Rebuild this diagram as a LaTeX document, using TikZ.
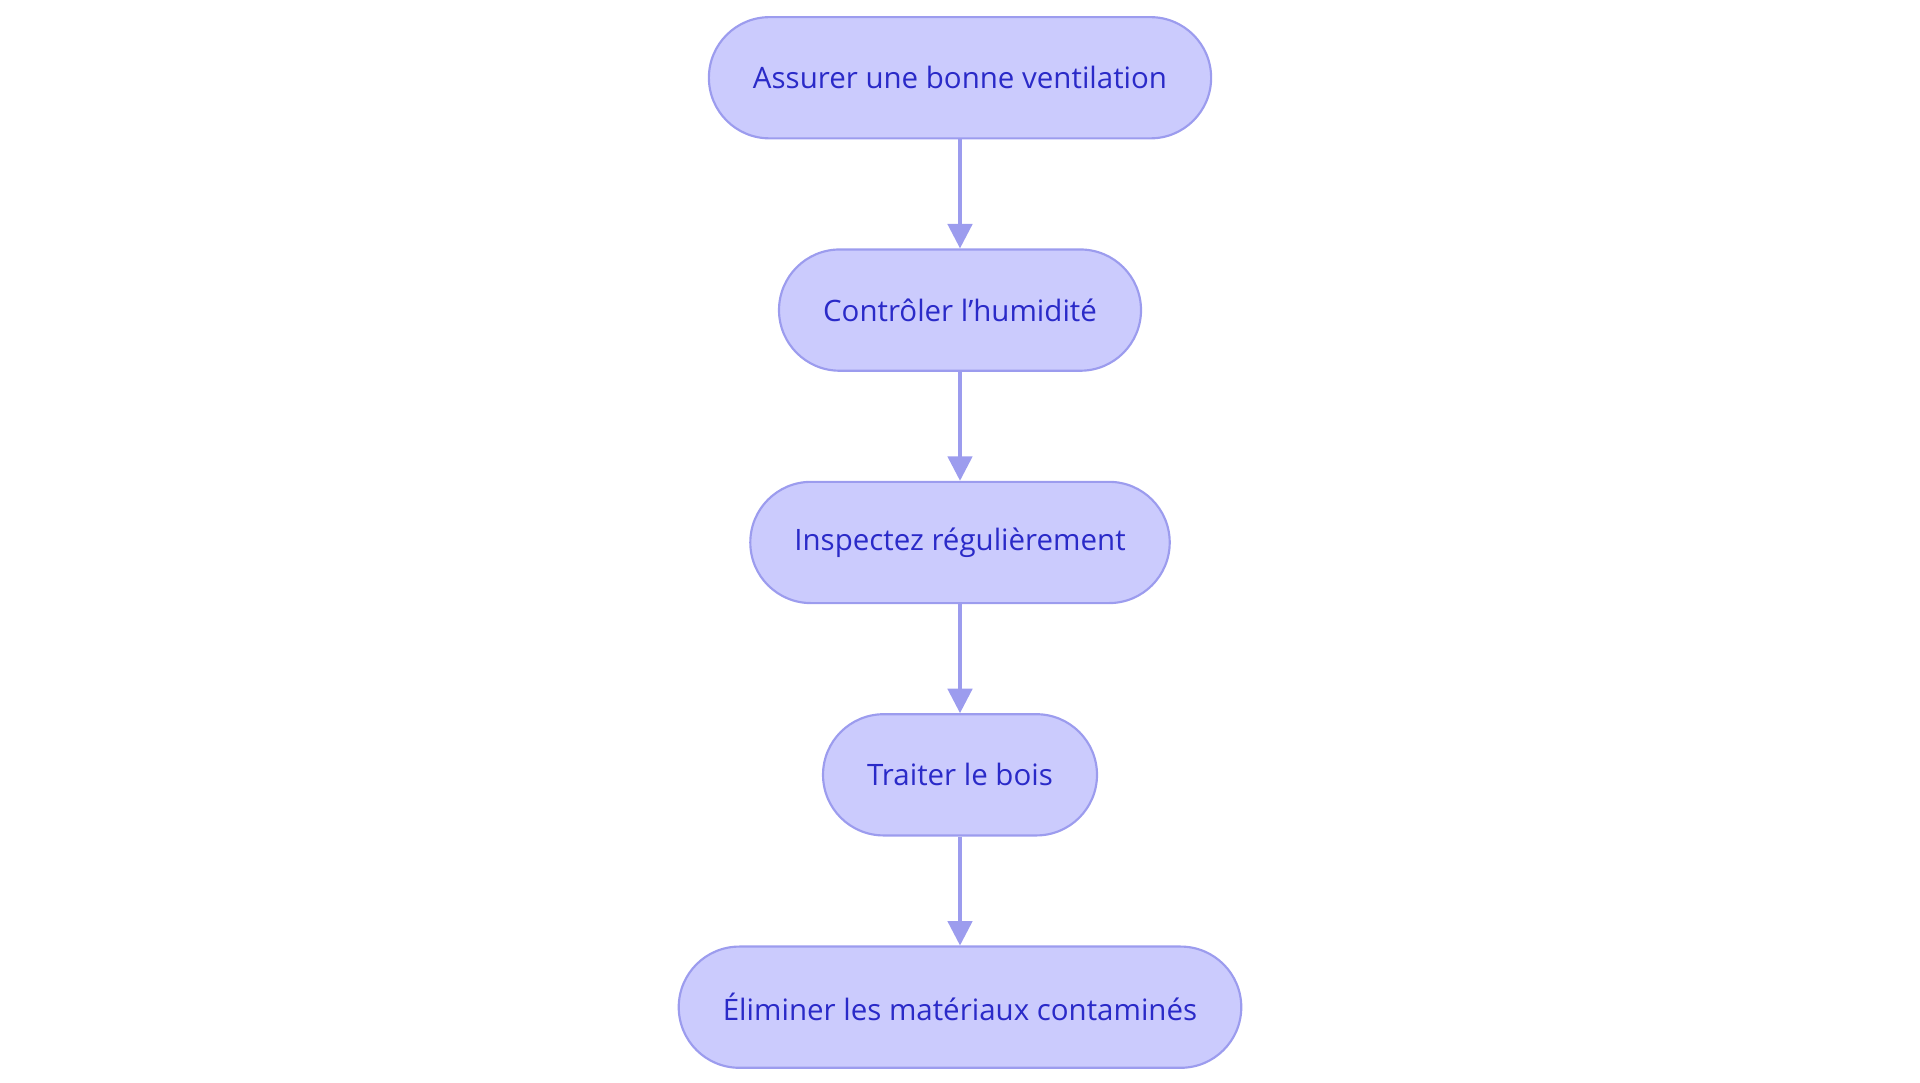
\documentclass[tikz,border=0pt]{standalone}
\usepackage{fontspec}
\setmainfont{Open Sans}
\usetikzlibrary{positioning,arrows.meta}
\definecolor{stepfill}{HTML}{CBCBFD}
\definecolor{stepline}{HTML}{9C9CEE}
\definecolor{steptext}{HTML}{2A2AC8}

\begin{document}
\begin{tikzpicture}[node distance=0.89cm, auto]
% Define styles
\tikzset{stepbox/.style={rectangle, rounded corners=0.495cm, draw=stepline, line width=0.5pt, fill=stepfill, text=steptext, font=\fontsize{6.85pt}{7.5pt}\selectfont, minimum height=0.99cm, inner xsep=0.36cm}}
\tikzset{flow/.style={-{Triangle[length=0.2cm, width=0.2cm]}, draw=stepline, line width=0.8pt}}
\useasboundingbox (0,0) rectangle (15.68,-8.84);

% Steps
\node [stepbox] at (7.84,-0.635) (vent) {Assurer une bonne ventilation};
\node [stepbox, below=of vent] (humid) {Contrôler l{\char39}humidité};
\node [stepbox, below=of humid] (insp) {Inspectez régulièrement};
\node [stepbox, below=of insp] (bois) {Traiter le bois};
\node [stepbox, below=of bois] (elim) {Éliminer les matériaux contaminés};

% Connections
\draw [flow] (vent) -- (humid);
\draw [flow] (humid) -- (insp);
\draw [flow] (insp) -- (bois);
\draw [flow] (bois) -- (elim);

\end{tikzpicture}
\end{document}
